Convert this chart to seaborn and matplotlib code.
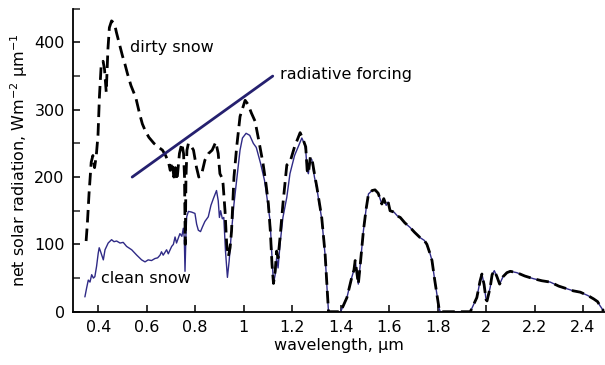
import numpy as np
import pandas as pd
import matplotlib
matplotlib.use("Agg")
import matplotlib.pyplot as plt
from matplotlib.ticker import MultipleLocator
import seaborn as sns

# ---------------- data ----------------
dirty_wl = [0.350, 0.355, 0.362, 0.371, 0.378, 0.385, 0.392, 0.399, 0.405, 0.412,
            0.420, 0.426, 0.433, 0.440, 0.446, 0.455, 0.467, 0.475, 0.487, 0.500,
            0.510, 0.521, 0.535, 0.555, 0.570, 0.582, 0.595, 0.609, 0.630, 0.650,
            0.665, 0.678, 0.690, 0.697, 0.705, 0.712, 0.718, 0.725, 0.735, 0.745,
            0.752, 0.756, 0.759, 0.762, 0.766, 0.772, 0.780, 0.793, 0.805, 0.815,
            0.827, 0.840, 0.855, 0.870, 0.885, 0.895, 0.902, 0.909, 0.915, 0.923,
            0.930, 0.937, 0.944, 0.950, 0.960, 0.971, 0.985, 1.006, 1.018, 1.032,
            1.047, 1.062, 1.080, 1.092, 1.102, 1.110, 1.117, 1.123, 1.130, 1.136,
            1.142, 1.150, 1.162, 1.178, 1.191, 1.210, 1.233, 1.246, 1.256, 1.262,
            1.267, 1.275, 1.281, 1.292, 1.302, 1.322, 1.336, 1.345, 1.350]
dirty_val = [105, 130, 175, 222, 232, 214, 232, 262, 320, 365,
             372, 360, 326, 390, 422, 432, 428, 415, 398, 380,
             368, 353, 336, 318, 295, 279, 268, 259, 250, 244,
             240, 232, 222, 210, 222, 200, 214, 195, 235, 250,
             235, 200, 100, 200, 240, 250, 248, 240, 215, 200,
             205, 225, 235, 240, 252, 235, 205, 200, 190, 150,
             100, 82, 95, 120, 200, 244, 290, 314, 308, 295,
             283, 255, 220, 190, 160, 120, 70, 42, 60, 90,
             80, 110, 160, 218, 222, 245, 266, 255, 245, 210,
             205, 230, 229, 205, 185, 140, 86, 30, 0]

clean_wl = [0.345, 0.352, 0.359, 0.366, 0.373, 0.380, 0.386, 0.393, 0.400, 0.404,
            0.410, 0.421, 0.428, 0.441, 0.455, 0.465, 0.476, 0.490, 0.503, 0.517,
            0.538, 0.559, 0.579, 0.593, 0.606, 0.620, 0.634, 0.645, 0.655, 0.661,
            0.668, 0.682, 0.689, 0.703, 0.710, 0.717, 0.723, 0.737, 0.745, 0.751,
            0.755, 0.758, 0.762, 0.765, 0.772, 0.785, 0.799, 0.806, 0.813, 0.822,
            0.830, 0.840, 0.854, 0.865, 0.875, 0.888, 0.895,
            0.900, 0.905, 0.912, 0.918, 0.925, 0.933, 0.940, 0.950, 0.960, 0.971,
            0.985, 0.995, 1.010, 1.025, 1.040, 1.052, 1.070, 1.086, 1.096, 1.109,
            1.117, 1.123, 1.130, 1.136, 1.142, 1.150, 1.162, 1.178, 1.191, 1.210,
            1.240, 1.250, 1.256, 1.262, 1.267, 1.275, 1.281, 1.292, 1.302, 1.322,
            1.336, 1.345, 1.350]
clean_val = [22, 35, 47, 44, 55, 50, 52, 67, 87, 95,
             89, 77, 92, 102, 107, 104, 105, 102, 103, 97,
             92, 84, 77, 74, 77, 76, 79, 80, 84, 89,
             84, 92, 86, 97, 100, 111, 102, 116, 112, 124,
             110, 60, 115, 141, 149, 148, 146, 130, 121, 119,
             126, 134, 141, 158, 168, 180, 165,
             140, 150, 138, 140, 90, 51, 75, 120, 160, 195,
             240, 258, 265, 262, 250, 244, 220, 195, 170, 135,
             80, 42, 55, 80, 65, 100, 140, 170, 205, 232,
             258, 250, 240, 210, 205, 228, 226, 200, 183, 138,
             84, 28, 0]

# long-wave part, common to both snow types
shared_wl = [1.360, 1.400, 1.405, 1.426, 1.446, 1.455, 1.460, 1.467, 1.473, 1.480,
             1.494, 1.505, 1.515, 1.530, 1.542, 1.555, 1.565, 1.570, 1.578, 1.588,
             1.596, 1.604, 1.620, 1.635, 1.646, 1.665, 1.687, 1.705, 1.728, 1.745,
             1.756, 1.770, 1.777, 1.787, 1.797, 1.806, 1.811, 1.935, 1.962, 1.975,
             1.983, 1.992, 2.000, 2.004, 2.010, 2.017, 2.025, 2.034, 2.045, 2.056,
             2.070, 2.086, 2.100, 2.127, 2.160, 2.196, 2.230, 2.265, 2.300, 2.334,
             2.360, 2.389, 2.420, 2.444, 2.460, 2.470, 2.485]
shared_val = [0, 0, 4, 21, 51, 62, 76, 58, 41, 66,
              120, 152, 175, 180, 181, 176, 165, 160, 168, 158,
              163, 150, 148, 142, 140, 132, 125, 118, 110, 106,
              100, 85, 76, 50, 26, 5, 0, 0, 21, 45,
              56, 40, 18, 16, 25, 36, 55, 61, 52, 41,
              52, 58, 60, 58, 53, 49, 46, 44, 38, 34,
              31, 29, 24, 19, 15, 9, 1]

forcing_wl = [0.54, 1.12]
forcing_val = [200, 350]

xticks = [0.4, 0.6, 0.8, 1.0, 1.2, 1.4, 1.6, 1.8, 2.0, 2.2, 2.4]
xticklabels = ["0.4", "0.6", "0.8", "1", "1.2", "1.4", "1.6", "1.8", "2", "2.2", "2.4"]
yticks = [0, 100, 200, 300, 400]

# ---------------- build frames ----------------
dirty = pd.DataFrame({"wl": dirty_wl + shared_wl, "val": dirty_val + shared_val})
clean = pd.DataFrame({"wl": clean_wl + shared_wl, "val": clean_val + shared_val})
forcing = pd.DataFrame({"wl": forcing_wl, "val": forcing_val})

sns.set_theme(style="white")
plt.rcParams["font.family"] = ["DejaVu Sans"]
plt.rcParams["mathtext.default"] = "regular"

navy = "#25206f"
fig = plt.figure(figsize=(6.05, 3.65), dpi=100)
ax = fig.add_axes([0.1207, 0.146, 0.879, 0.830])

sns.lineplot(data=clean, x="wl", y="val", ax=ax, color="#2f2a86", lw=1.0,
             sort=False, estimator=None)
sns.lineplot(data=dirty, x="wl", y="val", ax=ax, color="black", lw=2.0,
             sort=False, estimator=None, dashes=False)
ax.lines[-1].set_dashes((4.5, 2.2))
sns.lineplot(data=forcing, x="wl", y="val", ax=ax, color=navy, lw=2.0,
             sort=False, estimator=None)

ax.set_xlim(0.296, 2.49)
ax.set_ylim(0, 450)
ax.set_xticks(xticks)
ax.set_xticklabels(xticklabels)
ax.set_yticks(yticks)
ax.yaxis.set_minor_locator(MultipleLocator(50))

for side in ["top", "right"]:
    ax.spines[side].set_visible(False)
for side in ["left", "bottom"]:
    ax.spines[side].set_color("black")
    ax.spines[side].set_linewidth(1.3)

ax.tick_params(axis="both", which="major", direction="in", length=5, width=1.1,
               labelsize=11.5, colors="black", pad=6,
               bottom=True, left=True, top=False, right=False)
ax.tick_params(axis="y", which="minor", direction="in", length=5, width=1.1,
               left=True, right=False)

ax.set_xlabel("wavelength, µm", fontsize=11.5, color="black", labelpad=2)
ax.set_ylabel("net solar radiation, Wm$^{-2}$ µm$^{-1}$", fontsize=11.5,
              color="black", labelpad=3)

ax.text(0.531, 393, "dirty snow", fontsize=11.5, va="center", ha="left", color="black")
ax.text(1.15, 352, "radiative forcing", fontsize=11.5, va="center", ha="left", color="black")
ax.text(0.411, 50, "clean snow", fontsize=11.5, va="center", ha="left", color="black")

ax.grid(False)
fig.savefig("out.png", dpi=100)
